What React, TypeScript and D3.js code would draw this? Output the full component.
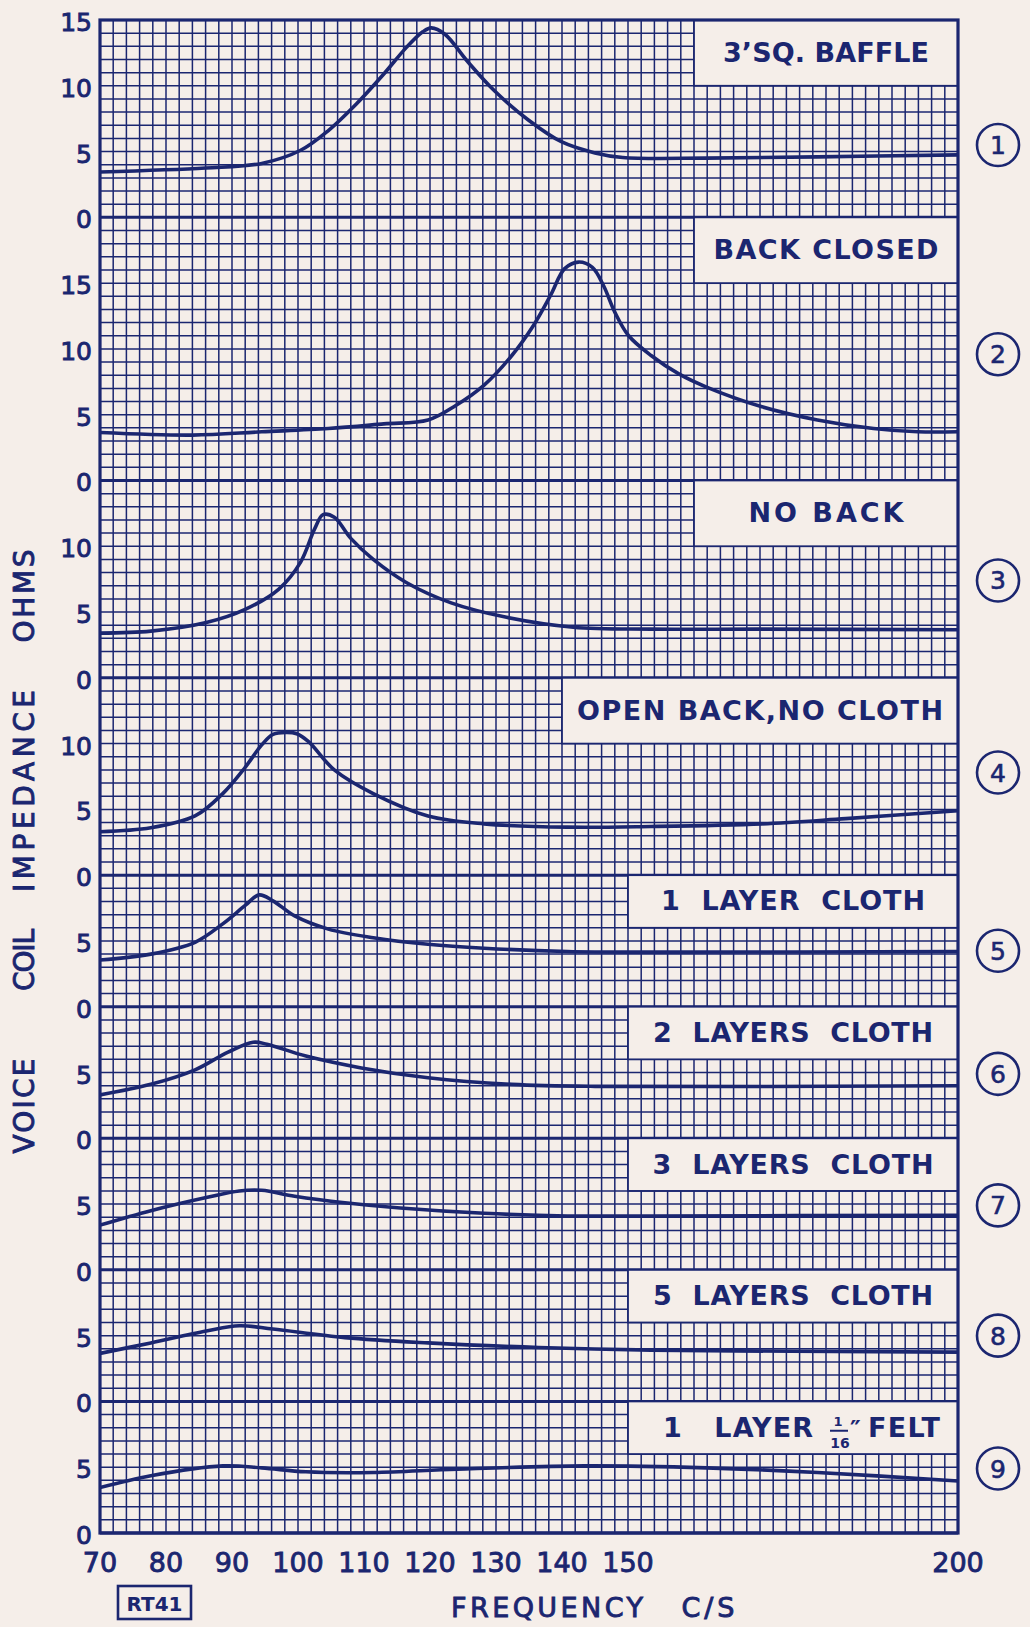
import React from 'react';
import * as d3 from 'd3';

// impedance curves: [frequency c/s, ohms]
const squareBaffle: [number, number][] = [
  [70, 3.45], [86, 3.75], [94.5, 4.1], [100.4, 5.1], [104.6, 6.6], [108.8, 8.6], [113, 10.9],
  [116.4, 12.9], [118.9, 14.1], [120.2, 14.4], [122.3, 13.9], [125.6, 11.9], [129.8, 9.6],
  [134.9, 7.4], [139.9, 5.75], [145, 4.9], [149.2, 4.55], [161.8, 4.5], [178.7, 4.6], [200, 4.75],
];
const backClosed: [number, number][] = [
  [70, 3.65], [84, 3.45], [94.5, 3.7], [104.6, 3.95], [113, 4.3], [119.7, 4.6], [123.9, 5.7],
  [128.2, 7.25], [132.4, 9.5], [135.7, 11.8], [138.3, 14.1], [140.4, 16.1], [142.5, 16.6],
  [144.6, 16.2], [146.3, 14.8], [148, 12.8], [150.1, 11.0], [153.5, 9.5], [157.7, 8.1],
  [161.9, 7.1], [170.3, 5.6], [178.7, 4.6], [187.2, 3.95], [193.9, 3.7], [200, 3.7],
];
const noBack: [number, number][] = [
  [70, 3.4], [77.7, 3.55], [86.1, 4.2], [92, 5.2], [97.1, 6.75], [100.4, 8.8], [102.5, 11.3],
  [103.8, 12.4], [105.5, 12.2], [108, 10.6], [111.4, 9.0], [116.4, 7.25], [123.2, 5.7],
  [131.6, 4.6], [141.7, 3.85], [153.5, 3.7], [170.3, 3.7], [200, 3.65],
];
const openBack: [number, number][] = [
  [70, 3.3], [77.7, 3.6], [84.4, 4.5], [88.6, 6.2], [92, 8.2], [94.5, 9.9], [96.2, 10.7],
  [98.2, 10.85], [99.8, 10.75], [101.6, 10.15], [105.5, 8.0], [111.4, 6.2], [119.7, 4.5],
  [128.2, 3.9], [140.8, 3.65], [153.5, 3.7], [170.3, 3.9], [183, 4.3], [200, 4.9],
];
const oneLayer: [number, number][] = [
  [70, 3.55], [77.7, 4.0], [84.4, 4.9], [88.6, 6.3], [92, 7.7], [94.1, 8.5], [96.2, 8.05],
  [99.5, 6.9], [104.6, 5.9], [111.4, 5.25], [119.7, 4.75], [128.2, 4.45], [140.8, 4.2],
  [153.5, 4.15], [200, 4.2],
];
const twoLayers: [number, number][] = [
  [70, 3.3], [77.7, 4.1], [84.4, 5.2], [89.4, 6.55], [93.2, 7.3], [95.3, 7.15], [101.2, 6.25],
  [109.6, 5.35], [119.7, 4.6], [132.4, 4.1], [145, 3.95], [200, 4.0],
];
const threeLayers: [number, number][] = [
  [70, 3.4], [77.7, 4.5], [86.1, 5.5], [91.1, 6.0], [94.5, 6.05], [99.5, 5.6], [107.1, 5.1],
  [115.5, 4.7], [128.2, 4.3], [140.8, 4.1], [153.5, 4.1], [200, 4.15],
];
const fiveLayers: [number, number][] = [
  [70, 3.65], [77.7, 4.45], [86.1, 5.35], [91.1, 5.75], [96.2, 5.5], [107.1, 4.85],
  [119.7, 4.45], [136.5, 4.1], [153.5, 3.9], [200, 3.75],
];
const felt: [number, number][] = [
  [70, 3.45], [77.7, 4.35], [88.6, 5.1], [94.5, 4.95], [101.2, 4.65], [111.4, 4.6],
  [124.1, 4.85], [143.4, 5.1], [161.9, 4.95], [178.7, 4.6], [200, 3.95],
];

// panels, top to bottom
const curves = [squareBaffle, backClosed, noBack, openBack, oneLayer, twoLayers, threeLayers, fiveLayers, felt];
const curveLabels = ['3\u2019SQ. BAFFLE', 'BACK CLOSED', 'NO BACK', 'OPEN BACK,NO CLOTH',
  '1  LAYER  CLOTH', '2  LAYERS  CLOTH', '3  LAYERS  CLOTH', '5  LAYERS  CLOTH', '1   LAYER'];
const curveNumbers = ['1', '2', '3', '4', '5', '6', '7', '8', '9'];
const panelSpans = [15, 20, 15, 15, 10, 10, 10, 10, 10]; // ohms shown in each panel
const boxFromFreq = [160, 160, 160, 140, 150, 150, 150, 150, 150];
const boxRows = [5, 5, 5, 5, 4, 4, 4, 4, 4];
const freqTicks = [70, 80, 90, 100, 110, 120, 130, 140, 150, 200];
const yTitleWords = ['VOICE', 'COIL', 'IMPEDANCE', 'OHMS'];

// layout only
const labelWidths = [206, 225, 155, 366, 264, 280, 281, 280, 150];
const circleAt = [5.5, 9.6, 7.4, 7.8, 4.25, 4.9, 4.9, 5, 4.9];
const yTitleCenters = [1106, 960, 791, 596];
const yTitleWidths = [95, 62, 202, 93];

const PAPER = '#f5eee9';
const INK = '#1b2670';
const FONT = "'DejaVu Sans', sans-serif";

export default function App() {
  const W = 1030;
  const H = 1627;
  const x = d3.scaleLinear().domain([70, 200]).range([100, 958]);
  const total = d3.sum(panelSpans);
  const y = d3.scaleLinear().domain([0, total]).range([1533, 20]);
  const bases = panelSpans.map((_, i) => d3.sum(panelSpans.slice(i + 1)));

  const vLines = d3.range(72, 200, 2);
  const hLines = d3.range(1, total).filter((v) => !bases.includes(v));

  // regular glyphs thickened a little with an outline, between book and bold
  const medium = { stroke: INK, strokeWidth: 0.9 };

  return (
    <svg width={W} height={H} style={{ position: 'absolute', left: 0, top: 0, display: 'block' }}
      fontFamily={FONT} fill={INK}>
      <defs>
        <clipPath id="plot">
          <rect x={x(70)} y={y(total)} width={x(200) - x(70)} height={y(0) - y(total)} />
        </clipPath>
      </defs>
      <rect width={W} height={H} fill={PAPER} />

      {/* graph paper */}
      <g stroke={INK} strokeWidth={1.5}>
        {vLines.map((f) => (
          <line key={'v' + f} x1={x(f)} x2={x(f)} y1={y(total)} y2={y(0)} />
        ))}
        {hLines.map((v) => (
          <line key={'h' + v} x1={x(70)} x2={x(200)} y1={y(v)} y2={y(v)} />
        ))}
      </g>
      <g stroke={INK} strokeWidth={3}>
        {bases.map((b) => (
          <line key={'b' + b} x1={x(70)} x2={x(200)} y1={y(b)} y2={y(b)} />
        ))}
      </g>

      {/* label boxes */}
      {curves.map((_, i) => {
        const top = bases[i] + panelSpans[i];
        const bx = x(boxFromFreq[i]);
        const by0 = y(top);
        const by1 = y(top - boxRows[i]);
        const cx = (bx + x(200)) / 2;
        const base = (by0 + by1) / 2 + 9;
        return (
          <g key={'box' + i}>
            <rect x={bx} y={by0} width={x(200) - bx} height={by1 - by0} fill={PAPER} stroke={INK} strokeWidth={1.8} />
            {i < 8 ? (
              <text x={cx} y={base} textAnchor="middle" fontSize={27} fontWeight="bold"
                textLength={labelWidths[i]} lengthAdjust="spacing" style={{ whiteSpace: 'pre' }}>
                {curveLabels[i]}
              </text>
            ) : (
              <g fontWeight="bold">
                <text x={cx + 20} y={base} textAnchor="end" fontSize={27}
                  textLength={labelWidths[i]} lengthAdjust="spacing" style={{ whiteSpace: 'pre' }}>
                  {curveLabels[i]}
                </text>
                <text x={cx + 45} y={base - 11} textAnchor="middle" fontSize={13}>1</text>
                <line x1={cx + 37} x2={cx + 55} y1={base - 6} y2={base - 6} stroke={INK} strokeWidth={2} />
                <text x={cx + 47} y={base + 11} textAnchor="middle" fontSize={14}>16</text>
                <text x={cx + 57} y={base + 1} fontSize={24}>{'\u2033'}</text>
                <text x={cx + 75} y={base} fontSize={27} textLength={72} lengthAdjust="spacing">FELT</text>
              </g>
            )}
          </g>
        );
      })}

      {/* curves */}
      <g clipPath="url(#plot)" fill="none" stroke={INK} strokeWidth={3.6} strokeLinejoin="round" strokeLinecap="round">
        {curves.map((c, i) => {
          const line = d3
            .line<[number, number]>()
            .x((d) => x(d[0]))
            .y((d) => y(bases[i] + d[1]))
            .curve(d3.curveCatmullRom.alpha(0.5));
          return <path key={'c' + i} d={line(c) || ''} />;
        })}
      </g>

      {/* outer frame */}
      <rect x={x(70)} y={y(total)} width={x(200) - x(70)} height={y(0) - y(total)}
        fill="none" stroke={INK} strokeWidth={3.2} />

      {/* ohm ticks */}
      <g fontSize={25} textAnchor="end" {...medium}>
        {curves.map((_, i) =>
          d3.range(0, panelSpans[i] + (i === 0 ? 1 : 0), 5).map((t) => (
            <text key={`t${i}-${t}`} x={92} y={y(bases[i] + t)} dy={11}>{t}</text>
          ))
        )}
      </g>

      {/* frequency ticks */}
      <g fontSize={27} textAnchor="middle" {...medium}>
        {freqTicks.map((f) => (
          <text key={'f' + f} x={x(f)} y={1572}>{f}</text>
        ))}
      </g>

      {/* curve numbers */}
      {curves.map((_, i) => {
        const cy = y(bases[i] + circleAt[i]);
        return (
          <g key={'n' + i}>
            <circle cx={998} cy={cy} r={21} fill="none" stroke={INK} strokeWidth={2.6} />
            <text x={998} y={cy} dy={9} textAnchor="middle" fontSize={25} stroke={INK} strokeWidth={0.6}>
              {curveNumbers[i]}
            </text>
          </g>
        );
      })}

      {/* axis titles */}
      <g fontSize={28} textAnchor="middle" {...medium}>
        {yTitleWords.map((w, i) => (
          <text key={w} transform={`translate(34,${yTitleCenters[i]}) rotate(-90)`}
            textLength={yTitleWidths[i]} lengthAdjust="spacing">{w}</text>
        ))}
        <text x={547} y={1617} fontSize={27} textLength={192} lengthAdjust="spacing">FREQUENCY</text>
        <text x={708} y={1617} fontSize={27} textLength={53} lengthAdjust="spacing">C/S</text>
      </g>

      <rect x={118} y={1586} width={73} height={33} fill="none" stroke={INK} strokeWidth={2.6} />
      <text x={154.5} y={1611} textAnchor="middle" fontSize={20} fontWeight="bold">RT41</text>
    </svg>
  );
}
